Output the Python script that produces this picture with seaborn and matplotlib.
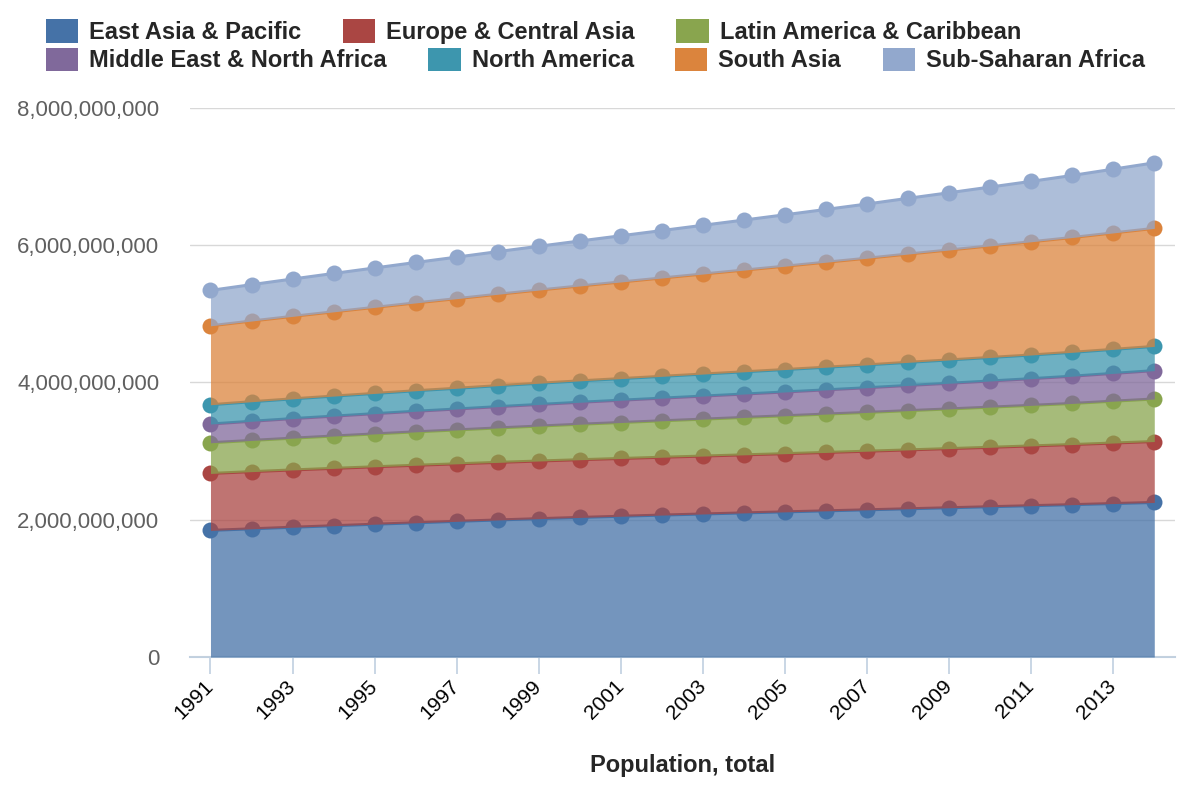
import numpy as np
import pandas as pd
import matplotlib
matplotlib.use('Agg')
import matplotlib.pyplot as plt
import matplotlib.ticker as mticker
from matplotlib.patches import Patch
import seaborn as sns

# Years on the x axis
years = list(range(1991, 2015))

# Regional populations (millions) (stacked bands)
east_asia = [1845, 1868, 1891, 1913, 1935, 1956, 1977, 1997, 2016, 2034, 2051, 2068,
             2084, 2100, 2115, 2130, 2145, 2160, 2175, 2190, 2205, 2220, 2236, 2252]
europe = [830, 833, 835, 836, 837, 838, 838, 839, 840, 841, 842, 843,
          844, 846, 848, 851, 854, 858, 862, 866, 871, 876, 882, 888]
latin_america = [447, 455, 463, 471, 479, 487, 494, 502, 509, 517, 524, 531,
                 538, 545, 552, 559, 565, 572, 578, 585, 591, 599, 610, 620]
mena = [273, 279, 285, 290, 295, 300, 305, 310, 315, 320, 325, 330,
        336, 341, 347, 353, 360, 367, 374, 381, 389, 397, 405, 413]
north_america = [281, 285, 288, 292, 295, 299, 302, 306, 309, 312, 315, 318,
                 321, 324, 327, 330, 333, 337, 340, 343, 345, 348, 350, 353]
south_asia = [1150, 1176, 1202, 1228, 1254, 1280, 1306, 1332, 1358, 1383, 1408, 1433,
              1458, 1482, 1506, 1530, 1554, 1578, 1602, 1626, 1650, 1673, 1697, 1720]
ssa = [516, 530, 544, 559, 574, 589, 605, 621, 638, 655, 673, 691,
       710, 729, 749, 769, 790, 812, 834, 857, 880, 904, 929, 955]

regions = ['East Asia & Pacific', 'Europe & Central Asia', 'Latin America & Caribbean',
           'Middle East & North Africa', 'North America', 'South Asia', 'Sub-Saharan Africa']
series = [east_asia, europe, latin_america, mena, north_america, south_asia, ssa]
colors = ['#4572A7', '#AA4643', '#89A54E', '#80699B', '#3D96AE', '#DB843D', '#92A8CD']

sns.set_style('white')
plt.rcParams['font.family'] = ['Liberation Sans', 'DejaVu Sans']

fig = plt.figure(figsize=(12, 8), dpi=100)
ax = fig.add_axes([0.1583, 0.17875, 0.8207, 0.68625])

# stacked areas
rows = []
bottom = np.zeros(len(years))
for name, vals in zip(regions, series):
    top = bottom + np.array(vals) * 1e6
    for y, b, t in zip(years, bottom, top):
        rows.append({'Year': y, 'Region': name, 'Bottom': b, 'Top': t})
    bottom = top
df = pd.DataFrame(rows)

# each band is drawn over the previous one's line and markers
for i, (name, col) in enumerate(zip(regions, colors)):
    d = df[df['Region'] == name]
    ax.fill_between(d['Year'], d['Bottom'], d['Top'], color=col, alpha=0.75,
                    linewidth=0, zorder=10 + 3 * i)
    sns.lineplot(data=d, x='Year', y='Top', color=col, marker='o', markersize=11.5,
                 markeredgewidth=0, linewidth=2.2, ax=ax, zorder=11 + 3 * i)

ax.set_xlim(1990.5, 2014.5)
ax.set_ylim(0, 8e9)
ax.set_yticks([0, 2e9, 4e9, 6e9, 8e9])
ax.yaxis.set_major_formatter(mticker.FuncFormatter(lambda v, p: f'{int(v):,}'))
ax.set_xticks(list(range(1991, 2015, 2)))
ax.set_xticklabels([str(y) for y in range(1991, 2015, 2)], rotation=45, ha='right',
                   va='center', rotation_mode='anchor')

ax.grid(axis='y', color='#D8D8D8', linewidth=1)
ax.set_axisbelow(True)
for s in ['top', 'right', 'left']:
    ax.spines[s].set_visible(False)
ax.spines['bottom'].set_color('#C0D0E0')
ax.spines['bottom'].set_linewidth(1.5)
ax.spines['bottom'].set_zorder(0.5)

ax.tick_params(axis='y', length=0, pad=22, labelsize=16, labelcolor='#606060')
ax.tick_params(axis='x', length=12, width=1.2, color='#C0D0E0', pad=7, labelsize=15,
               labelcolor='black', bottom=True)

ax.set_ylabel('')
ax.set_xlabel('Population, total', fontsize=17, fontweight='bold', labelpad=22)

# legend in two flow rows
handles = [Patch(facecolor=c, edgecolor='none') for c in colors]
legend_kw = dict(frameon=False, loc='center left', borderpad=0, borderaxespad=0,
                 handlelength=1.36, handleheight=1.15, handletextpad=0.47,
                 columnspacing=1.76, prop={'weight': 'bold', 'size': 17})
fig.legend(handles[:3], regions[:3], ncol=3, bbox_to_anchor=(46 / 1200, 1 - 31.5 / 800),
           **legend_kw)
fig.legend(handles[3:], regions[3:], ncol=4, bbox_to_anchor=(46 / 1200, 1 - 60 / 800),
           **legend_kw)

fig.savefig('out.png', dpi=100)
